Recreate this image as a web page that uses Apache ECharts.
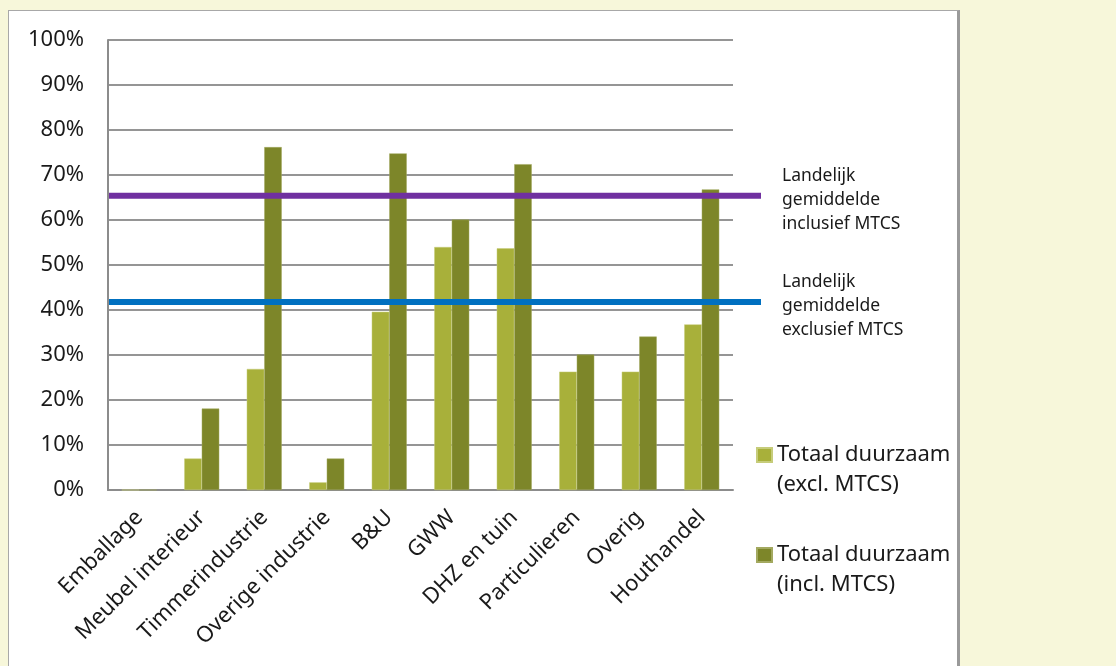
<!DOCTYPE html>
<html>
<head>
<meta charset="utf-8">
<script src="https://cdn.jsdelivr.net/npm/echarts@6/dist/echarts.min.js"></script>
<style>
  html, body { margin: 0; padding: 0; background: #f7f7da; }
  #panel {
    position: absolute; left: 8px; top: 10px; width: 948px; height: 670px;
    background: #ffffff; border-left: 1px solid #a8a8a8; border-top: 1px solid #a8a8a8;
    border-right: 3px solid #9a9a9a;
  }
  #chart { position: absolute; left: 0; top: 0; width: 1116px; height: 666px; }
</style>
</head>
<body>
<div id="panel"></div>
<div id="chart"></div>
<script>
// Sectors and the share of sustainable timber (percent)
const categories = ['Emballage', 'Meubel interieur', 'Timmerindustrie', 'Overige industrie', 'B&U',
  'GWW', 'DHZ en tuin', 'Particulieren', 'Overig', 'Houthandel'];
const exclMTCS = [0, 7.0, 26.9, 1.7, 39.6, 54.0, 53.7, 26.3, 26.3, 36.8];
const inclMTCS = [0, 18.1, 76.2, 7.0, 74.8, 60.1, 72.4, 30.1, 34.1, 66.8];

// National averages
const avgIncl = 65.4;
const avgExcl = 41.8;

const seriesNames = ['Totaal duurzaam\n(excl. MTCS)', 'Totaal duurzaam\n(incl. MTCS)'];
const avgLabels = ['Landelijk\ngemiddelde\ninclusief MTCS', 'Landelijk\ngemiddelde\nexclusief MTCS'];

const yMin = 0, yMax = 100, yStep = 10;

const FONT = '"Noto Sans", "Open Sans", sans-serif';
const chart = echarts.init(document.getElementById('chart'));

function avgLine(name, value, color, label) {
  return {
    name: name, type: 'line', xAxisIndex: 1, yAxisIndex: 1,
    data: [[0, value], [1, value]],
    symbol: 'none', silent: true,
    lineStyle: { color: color, width: 6 },
    endLabel: {
      show: true, formatter: label, distance: 21, offset: [0, 4],
      fontFamily: FONT, fontSize: 17.5, lineHeight: 24, color: '#1a1a1a'
    },
    z: 5
  };
}

// One legend per entry so the square sits beside the first text line
function legendFor(name, top) {
  return {
    data: [name],
    orient: 'vertical', left: 756, top: top, padding: 0,
    itemWidth: 15, itemHeight: 14, itemGap: 0,
    icon: 'rect',
    formatter: n => '\n' + n,
    textStyle: { fontFamily: FONT, fontSize: 22, lineHeight: 30, color: '#1a1a1a' }
  };
}

chart.setOption({
  animation: false,
  textStyle: { fontFamily: FONT },
  grid: [
    { left: 108, right: 383, top: 40, bottom: 176 },
    { left: 109, right: 355, top: 40, bottom: 176 }
  ],
  legend: [legendFor(seriesNames[0], 410), legendFor(seriesNames[1], 510)],
  xAxis: [
    {
      type: 'category', data: categories, gridIndex: 0,
      axisLine: { lineStyle: { color: '#8c8c8c', width: 2 } },
      axisTick: { show: false },
      axisLabel: { rotate: 45, interval: 0, margin: 24, fontFamily: FONT, fontSize: 22, color: '#1a1a1a' }
    },
    { type: 'value', gridIndex: 1, min: 0, max: 1, show: false }
  ],
  yAxis: [
    {
      type: 'value', gridIndex: 0, min: yMin, max: yMax, interval: yStep,
      axisLine: { show: true, lineStyle: { color: '#8c8c8c', width: 2 } },
      axisTick: { show: false },
      splitLine: { lineStyle: { color: '#959595', width: 2 } },
      axisLabel: { formatter: '{value}%', margin: 24, fontFamily: FONT, fontSize: 22, color: '#1a1a1a' }
    },
    { type: 'value', gridIndex: 1, min: yMin, max: yMax, show: false }
  ],
  series: [
    {
      name: seriesNames[0], type: 'bar', data: exclMTCS,
      barGap: '0%', barCategoryGap: '44%',
      itemStyle: { color: '#a8b03a', borderColor: '#c6cc7a', borderWidth: 0.5 }
    },
    {
      name: seriesNames[1], type: 'bar', data: inclMTCS,
      barGap: '0%', barCategoryGap: '44%',
      itemStyle: { color: '#7d8629', borderColor: '#a3a960', borderWidth: 0.5 }
    },
    avgLine('Landelijk gemiddelde inclusief MTCS', avgIncl, '#7030a0', avgLabels[0]),
    avgLine('Landelijk gemiddelde exclusief MTCS', avgExcl, '#0070c0', avgLabels[1])
  ]
});
</script>
</body>
</html>
